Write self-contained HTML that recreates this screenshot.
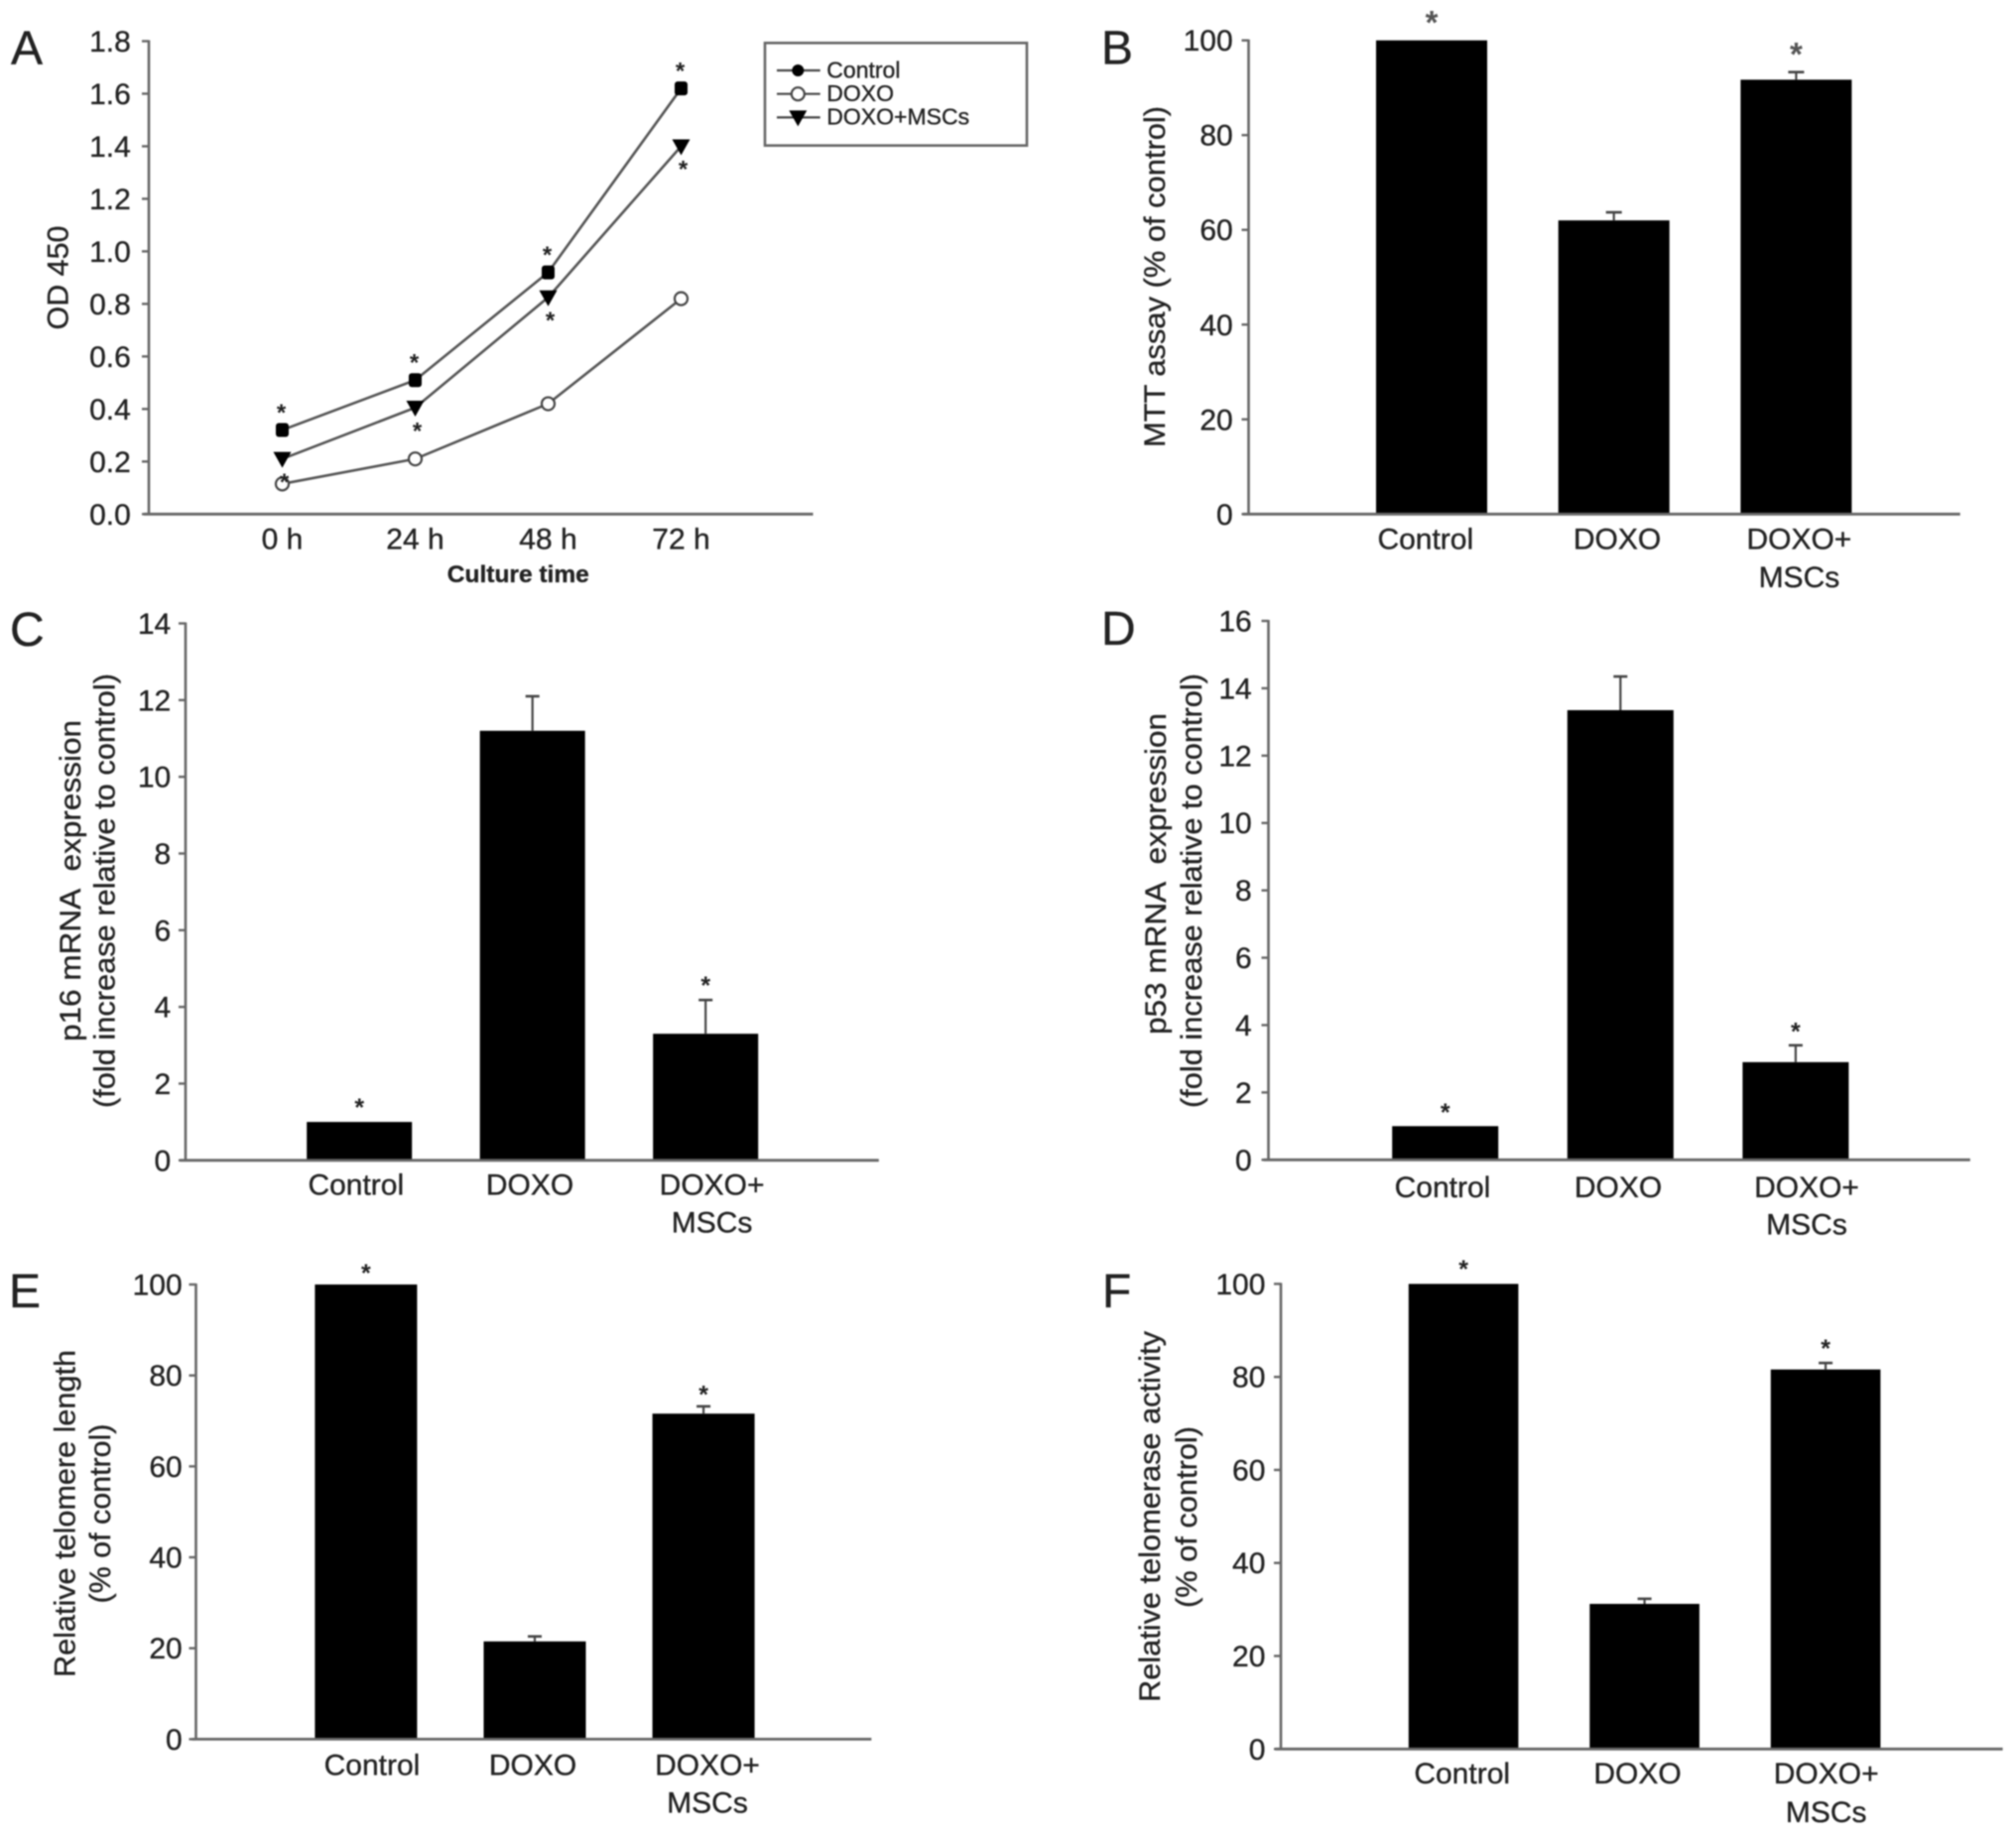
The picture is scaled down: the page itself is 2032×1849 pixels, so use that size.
<!DOCTYPE html>
<html lang="en">
<head>
<meta charset="utf-8">
<title>Six-panel cell assay figure</title>
<style>
  html, body { margin: 0; padding: 0; background: #fff; }
  body { width: 2032px; height: 1849px; overflow: hidden; }
  #figure { display: block; filter: blur(0.7px); }
  text { font-family: "Liberation Sans", sans-serif; fill: #222; stroke: #222; stroke-width: 0.35px; }
</style>
</head>
<body>
<svg id="figure" xmlns="http://www.w3.org/2000/svg" width="2032" height="1849" viewBox="0 0 2032 1849"></svg>
<script>
/* ---------- Panel A data ---------- */
var timeCategories = ['0 h', '24 h', '48 h', '72 h'];
var odTicks = [0.0, 0.2, 0.4, 0.6, 0.8, 1.0, 1.2, 1.4, 1.6, 1.8];
var controlOd = [0.32, 0.51, 0.92, 1.62];
var doxoOd = [0.115, 0.21, 0.42, 0.82];
var doxoMscOd = [0.21, 0.405, 0.825, 1.40];

/* ---------- Bar panels data ---------- */
var barCategories = ['Control', 'DOXO', 'DOXO+ MSCs'];
var mttTicks = [0, 20, 40, 60, 80, 100];
var mttValues = [100, 62, 91.7];
var mttErrors = [0, 1.7, 1.6];
var mttStars = [true, false, true];

var p16Ticks = [0, 2, 4, 6, 8, 10, 12, 14];
var p16Values = [1.0, 11.2, 3.3];
var p16Errors = [0, 0.9, 0.88];
var p16Stars = [true, false, true];

var p53Ticks = [0, 2, 4, 6, 8, 10, 12, 14, 16];
var p53Values = [1.0, 13.35, 2.9];
var p53Errors = [0, 1.0, 0.5];
var p53Stars = [true, false, true];

var lengthTicks = [0, 20, 40, 60, 80, 100];
var lengthValues = [100, 21.5, 71.6];
var lengthErrors = [0, 1.1, 1.6];
var lengthStars = [true, false, true];

var activityTicks = [0, 20, 40, 60, 80, 100];
var activityValues = [100, 31.2, 81.6];
var activityErrors = [0, 1.1, 1.4];
var activityStars = [true, false, true];

/* ---------- Helpers ---------- */
var SVGNS = 'http://www.w3.org/2000/svg';
var AXIS_COLOR = '#666';
var STAR_DROP = 0.47;
var svgRoot = document.getElementById('figure');

function make(parent, tag, attrs, content) {
  var el = document.createElementNS(SVGNS, tag);
  for (var k in attrs) { el.setAttribute(k, attrs[k]); }
  if (content !== undefined) { el.textContent = content; }
  parent.appendChild(el);
  return el;
}
function slug(s) {
  return String(s).toLowerCase().replace(/[^a-z0-9]+/g, '-').replace(/^-|-$/g, '');
}
function linearScale(d0, d1, r0, r1) {
  return function (v) { return r0 + (v - d0) * (r1 - r0) / (d1 - d0); };
}
function bandScale(first, step) {
  return function (i) { return first + i * step; };
}

function drawPanelLetter(g, letter, x, y) {
  var el = make(g, 'text', { x: x, y: y, 'font-size': 48, fill: '#111' }, letter);
  
  
}

function drawYAxis(g, ticks, y, axisX, top, bottom, labelRight, fmt) {
  var axis = make(g, 'line', { x1: axisX, x2: axisX, y1: top - 1, y2: bottom, stroke: AXIS_COLOR, 'stroke-width': 2.6 });
  
  
  ticks.forEach(function (t) {
    var tick = make(g, 'line', { x1: axisX - 7, x2: axisX, y1: y(t), y2: y(t), stroke: AXIS_COLOR, 'stroke-width': 2.4 });
    
    
    var label = make(g, 'text', { x: labelRight, y: y(t) + 10.5, 'font-size': 30, 'text-anchor': 'end' }, fmt(t));
    
    
  });
}

function drawXAxisLine(g, x0, x1, yPos) {
  var axis = make(g, 'line', { x1: x0, x2: x1, y1: yPos, y2: yPos, stroke: AXIS_COLOR, 'stroke-width': 2.8 });
  
  
}

function drawYTitle(g, text, baselineX, centerY, length) {
  var el = make(g, 'text', {
    x: 0, y: 0, 'font-size': 30, 'text-anchor': 'middle', fill: '#333',
    transform: 'translate(' + baselineX + ' ' + centerY + ') rotate(-90)',
    textLength: length, lengthAdjust: 'spacingAndGlyphs'
  }, text);
  
  
}

function drawCategoryLabels(g, cats, labelLayout, base1, base2) {
  cats.forEach(function (cat, i) {
    var parts = cat.split(' ');
    var first = make(g, 'text', { x: labelLayout[i], y: base1, 'font-size': 30, 'text-anchor': 'middle' }, parts[0]);
    
    
    if (parts[1]) {
      var second = make(g, 'text', { x: labelLayout[i], y: base2, 'font-size': 30, 'text-anchor': 'middle' }, parts[1]);
      
      
    }
  });
}

function drawBars(g, cats, values, errors, stars, x, y, barWidth, capWidth, starGap, starSize, starColor) {
  values.forEach(function (v, i) {
    var cx = x(i);
    var bar = make(g, 'rect', { x: cx - barWidth / 2, y: y(v), width: barWidth, height: y(0) - y(v), fill: '#000' });
    
    
    var topVal = v + errors[i];
    if (errors[i] > 0) {
      var stem = make(g, 'line', { x1: cx, x2: cx, y1: y(v), y2: y(topVal), stroke: '#444', 'stroke-width': 2.2 });
      
      
      var cap = make(g, 'line', { x1: cx - capWidth / 2, x2: cx + capWidth / 2, y1: y(topVal), y2: y(topVal), stroke: '#444', 'stroke-width': 2.6 });
      
      
    }
    if (stars[i]) {
      var star = make(g, 'text', {
        x: cx, y: y(topVal) - starGap + STAR_DROP * starSize, 'font-size': starSize, 'font-weight': 'bold',
        'text-anchor': 'middle', style: 'fill:' + starColor + ';stroke:none'
      }, '*');
      
      
    }
  });
}

function drawBarPanel(o) {
  var g = make(svgRoot, 'g', {});
  
  
  var y = linearScale(0, o.max, o.y0, o.yMax);
  var x = bandScale(o.first, o.step);
  drawBars(g, barCategories, o.values, o.errors, o.stars, x, y, o.barWidth, o.capWidth, o.starGap, o.starSize, o.starColor);
  drawYAxis(g, o.ticks, y, o.axisX, o.yMax, o.y0, o.labelRight, function (t) { return String(t); });
  drawXAxisLine(g, o.xStart, o.xEnd, o.y0);
  drawCategoryLabels(g, barCategories, o.labelLayout, o.base1, o.base2);
  drawPanelLetter(g, o.letter, o.letterX, o.letterY);
  o.titles.forEach(function (t) { drawYTitle(g, t[0], t[1], t[2], t[3]); });
}

/* ---------- Panel A: line chart ---------- */
function drawMarker(g, kind, cx, cy) {
  var el;
  if (kind === 'filled-square') {
    el = make(g, 'rect', { x: cx - 6.5, y: cy - 7, width: 13, height: 14, rx: 3, fill: '#000' });
  } else if (kind === 'filled-circle') {
    el = make(g, 'circle', { cx: cx, cy: cy, r: 6, fill: '#000' });
  } else if (kind === 'open-circle') {
    el = make(g, 'circle', { cx: cx, cy: cy, r: 6.5, fill: '#fff', stroke: '#444', 'stroke-width': 2.2 });
  } else {
    el = make(g, 'polygon', { points: [cx - 9, cy - 7, cx + 9, cy - 7, cx, cy + 9].join(' '), fill: '#000' });
  }
  return el;
}

function drawLinePanel() {
  var g = make(svgRoot, 'g', {});
  
  
  var y = linearScale(0, 1.8, 518.3, 41.5);
  var x = bandScale(284.5, 134);

  drawYAxis(g, odTicks, y, 150, 41.5, 518.3, 131.8, function (t) { return t.toFixed(1); });
  drawXAxisLine(g, 145, 819.5, 518.3);

  var series = [
    { label: 'Control', values: controlOd, kind: 'filled-square', legendKind: 'filled-circle' },
    { label: 'DOXO', values: doxoOd, kind: 'open-circle', legendKind: 'open-circle' },
    { label: 'DOXO+MSCs', values: doxoMscOd, kind: 'triangle', legendKind: 'triangle' }
  ];
  series.forEach(function (s) {
    var pts = s.values.map(function (v, i) { return x(i) + ',' + y(v); }).join(' ');
    var line = make(g, 'polyline', { points: pts, fill: 'none', stroke: '#555', 'stroke-width': 2.6 });
    
    
    s.values.forEach(function (v, i) {
      var m = drawMarker(g, s.kind, x(i), y(v));
      
      
    });
  });

  var starSize = 24;
  controlOd.forEach(function (v, i) {
    var star = make(g, 'text', {
      x: x(i) - 1, y: y(v) - 21 + STAR_DROP * starSize, 'font-size': starSize, 'font-weight': 'bold',
      'text-anchor': 'middle', style: 'fill:#222;stroke:none'
    }, '*');
    
    
  });
  doxoMscOd.forEach(function (v, i) {
    var star = make(g, 'text', {
      x: x(i) + 2, y: y(v) + 20 + STAR_DROP * starSize, 'font-size': starSize, 'font-weight': 'bold',
      'text-anchor': 'middle', style: 'fill:#222;stroke:none'
    }, '*');
    
    
  });

  timeCategories.forEach(function (c, i) {
    var label = make(g, 'text', { x: x(i), y: 553.5, 'font-size': 30, 'text-anchor': 'middle' }, c);
    
    
  });

  var xTitle = make(g, 'text', { x: 522.3, y: 587, 'font-size': 24, 'font-weight': 'bold', 'text-anchor': 'middle', fill: '#333', textLength: 143, lengthAdjust: 'spacingAndGlyphs' }, 'Culture time');
  
  

  drawYTitle(g, 'OD 450', 68.5, 280, 105);
  drawPanelLetter(g, 'A', 11, 64.5);

  var legend = make(g, 'g', {});
  
  
  var box = make(legend, 'rect', { x: 771, y: 43.3, width: 264, height: 103.4, fill: '#fff', stroke: '#666', 'stroke-width': 2.6 });
  
  
  var legendY = bandScale(71, 23.7);
  series.forEach(function (s, i) {
    var ly = legendY(i);
    var sample = make(legend, 'line', { x1: 783, x2: 826.7, y1: ly, y2: ly, stroke: '#444', 'stroke-width': 2.2 });
    
    
    var mark = drawMarker(legend, s.legendKind, 804.3, ly);
    
    
    var text = make(legend, 'text', { x: 833.3, y: ly + 7.3, 'font-size': 23, fill: '#222' }, s.label);
    
    
  });
}

/* ---------- Build ---------- */
drawLinePanel();

drawBarPanel({
  name: 'panel-b-mtt-assay-chart', letter: 'B', letterX: 1110, letterY: 64.5,
  ticks: mttTicks, values: mttValues, errors: mttErrors, stars: mttStars, max: 100,
  y0: 518.3, yMax: 40.7, axisX: 1258.5, labelRight: 1242.7, xStart: 1252.8, xEnd: 1975.7,
  first: 1443, step: 183.7, barWidth: 112, capWidth: 16, starGap: 22, starSize: 33, starColor: '#555',
  labelLayout: [1436.8, 1630, 1813.4], base1: 553.5, base2: 592,
  titles: [['MTT assay (% of control)', 1174, 279, 344]]
});

drawBarPanel({
  name: 'panel-c-p16-expression-chart', letter: 'C', letterX: 10, letterY: 651,
  ticks: p16Ticks, values: p16Values, errors: p16Errors, stars: p16Stars, max: 14,
  y0: 1169.8, yMax: 628.5, axisX: 187, labelRight: 172.2, xStart: 181.4, xEnd: 885.8,
  first: 362.2, step: 174.5, barWidth: 106, capWidth: 14, starGap: 18, starSize: 25, starColor: '#222',
  labelLayout: [358.8, 534, 717.6], base1: 1204.7, base2: 1242.6,
  titles: [['p16 mRNA\u00a0 expression', 81.2, 888, 324], ['(fold increase relative to control)', 115.5, 898, 438]]
});

drawBarPanel({
  name: 'panel-d-p53-expression-chart', letter: 'D', letterX: 1110, letterY: 650,
  ticks: p53Ticks, values: p53Values, errors: p53Errors, stars: p53Stars, max: 16,
  y0: 1169.3, yMax: 626, axisX: 1278.5, labelRight: 1261.7, xStart: 1273.6, xEnd: 1985.8,
  first: 1456.7, step: 176.6, barWidth: 107, capWidth: 14, starGap: 17, starSize: 25, starColor: '#222',
  labelLayout: [1454, 1631, 1821], base1: 1207, base2: 1244.7,
  titles: [['p53 mRNA\u00a0 expression', 1175.2, 881, 324], ['(fold increase relative to control)', 1211, 898, 438]]
});

drawBarPanel({
  name: 'panel-e-telomere-length-chart', letter: 'E', letterX: 9, letterY: 1318,
  ticks: lengthTicks, values: lengthValues, errors: lengthErrors, stars: lengthStars, max: 100,
  y0: 1753.4, yMax: 1295, axisX: 197.5, labelRight: 183.7, xStart: 193.5, xEnd: 878.3,
  first: 368.9, step: 170.1, barWidth: 103, capWidth: 14, starGap: 15, starSize: 25, starColor: '#222',
  labelLayout: [375, 537, 713], base1: 1789.6, base2: 1827.6,
  titles: [['Relative telomere length', 75.5, 1526, 330], ['(% of control)', 111.2, 1526, 181]]
});

drawBarPanel({
  name: 'panel-f-telomerase-activity-chart', letter: 'F', letterX: 1111, letterY: 1318,
  ticks: activityTicks, values: activityValues, errors: activityErrors, stars: activityStars, max: 100,
  y0: 1763.3, yMax: 1294.4, axisX: 1291, labelRight: 1275.4, xStart: 1285.5, xEnd: 2018.6,
  first: 1475.1, step: 182.5, barWidth: 110.6, capWidth: 14, starGap: 18, starSize: 25, starColor: '#222',
  labelLayout: [1473.7, 1650.5, 1840.7], base1: 1798, base2: 1837,
  titles: [['Relative telomerase activity', 1169.2, 1529, 374], ['(% of control)', 1206.2, 1529.5, 183]]
});
</script>
</body>
</html>
